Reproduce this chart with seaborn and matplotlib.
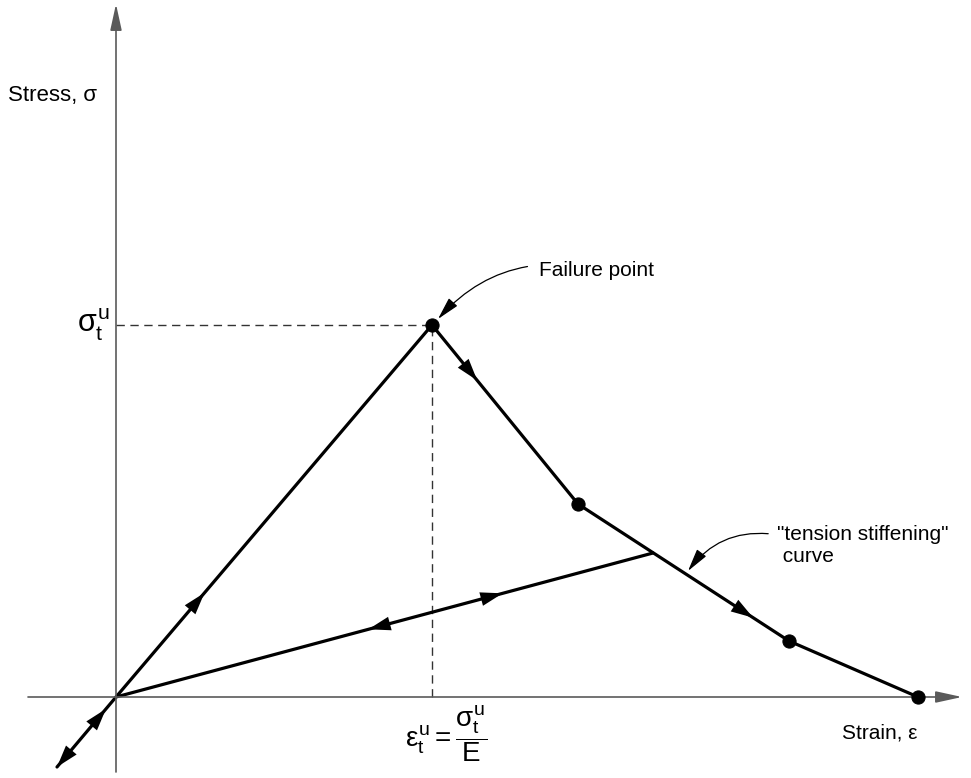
import numpy as np
import matplotlib.pyplot as plt
import seaborn as sns

# drawing units: strain / stress (1 unit ~ 100 px)
path_strain = [-0.59, 0.0, 3.16, 4.62, 6.73, 8.02]
path_stress = [-0.70, 0.0, 3.72, 1.93, 0.56, 0.00]

unload_strain = [0.0, 5.37]
unload_stress = [0.0, 1.44]

point_strain = [3.16, 4.62, 6.73, 8.02]
point_stress = [3.72, 1.93, 0.56, 0.00]

fail_strain = 3.16
fail_stress = 3.72

# direction arrows: (from, to, fraction along segment)
arrow_segs = [
    ((0.0, 0.0), (3.16, 3.72), 0.28),
    ((3.16, 3.72), (4.62, 1.93), 0.31),
    ((4.62, 1.93), (6.73, 0.56), 0.83),
    ((5.37, 1.44), (0.0, 0.0), 0.53),
    ((0.0, 0.0), (5.37, 1.44), 0.72),
    ((0.0, 0.0), (-0.59, -0.70), 1.0),
    ((-0.59, -0.70), (0.0, 0.0), 0.83),
]

sns.set_style('white')
plt.rcParams['font.family'] = ['Liberation Sans', 'DejaVu Sans']
plt.rcParams['text.color'] = 'black'
plt.rcParams['mathtext.fontset'] = 'custom'
plt.rcParams['mathtext.rm'] = 'Liberation Sans'
plt.rcParams['mathtext.it'] = 'Liberation Sans'
plt.rcParams['mathtext.bf'] = 'Liberation Sans:bold'

AXIS_GRAY = '#5a5a5a'

fig = plt.figure(figsize=(9.71, 7.78), dpi=100)
ax = fig.add_axes([0, 0, 1, 1])
ax.set_xlim(-1.16, 8.55)
ax.set_ylim(-0.81, 6.97)
ax.axis('off')

# axes with arrow heads
ax.annotate('', xy=(8.46, 0), xytext=(-0.88, 0),
            arrowprops=dict(arrowstyle='-|>,head_length=1.6,head_width=0.35',
                            mutation_scale=10, color=AXIS_GRAY, lw=1.2,
                            shrinkA=0, shrinkB=0))
ax.annotate('', xy=(0, 6.93), xytext=(0, -0.75),
            arrowprops=dict(arrowstyle='-|>,head_length=1.6,head_width=0.35',
                            mutation_scale=10, color=AXIS_GRAY, lw=1.2,
                            shrinkA=0, shrinkB=0))

# dashed guide lines to the failure point
ax.plot([0, fail_strain], [fail_stress, fail_stress], color='#333333',
        lw=1, dashes=(6, 4))
ax.plot([fail_strain, fail_strain], [0, fail_stress], color='#333333',
        lw=1, dashes=(6, 4))

# stress-strain path
sns.lineplot(x=path_strain, y=path_stress, sort=False, estimator=None,
             color='black', lw=2.3, ax=ax)
sns.lineplot(x=unload_strain, y=unload_stress, sort=False, estimator=None,
             color='black', lw=2.3, ax=ax)
sns.scatterplot(x=point_strain, y=point_stress, color='black', s=90,
                edgecolor='black', zorder=5, ax=ax)

# direction arrows along the path
for a, b, f in arrow_segs:
    a = np.array(a)
    b = np.array(b)
    d = (b - a) / np.linalg.norm(b - a)
    tip = a + f * (b - a)
    ax.annotate('', xy=tip, xytext=tip - 0.2 * d,
                arrowprops=dict(arrowstyle='-|>,head_length=1.6,head_width=0.5',
                                mutation_scale=10, color='black', lw=0,
                                shrinkA=0, shrinkB=0))

# labels
ax.text(-1.08, 6.02, 'Stress, σ', ha='left', va='center', fontsize=16)
ax.text(-0.06, fail_stress, r'$\sigma_t^u$', ha='right', va='center',
        fontsize=22)
ax.text(fail_strain + 0.14, -0.37, r'$\varepsilon_t^u=\dfrac{\sigma_t^u}{E}$',
        ha='center', va='center', fontsize=20)
ax.text(7.26, -0.36, 'Strain, ε', ha='left', va='center', fontsize=15)

ax.annotate('Failure point', xy=(3.22, 3.78), xytext=(4.23, 4.27),
            ha='left', va='center', fontsize=15,
            arrowprops=dict(arrowstyle='-|>,head_length=1.4,head_width=0.35',
                            mutation_scale=10, color='black', lw=0.9,
                            connectionstyle='arc3,rad=0.3',
                            shrinkA=6, shrinkB=0))
ax.annotate('"tension stiffening"\n curve', xy=(5.72, 1.26), xytext=(6.61, 1.52),
            ha='left', va='center', fontsize=15, multialignment='left',
            arrowprops=dict(arrowstyle='-|>,head_length=1.4,head_width=0.35',
                            mutation_scale=10, color='black', lw=0.9,
                            connectionstyle='arc3,rad=0.3',
                            relpos=(0, 0.75), shrinkA=4, shrinkB=0))

fig.savefig('out.png', dpi=100)
